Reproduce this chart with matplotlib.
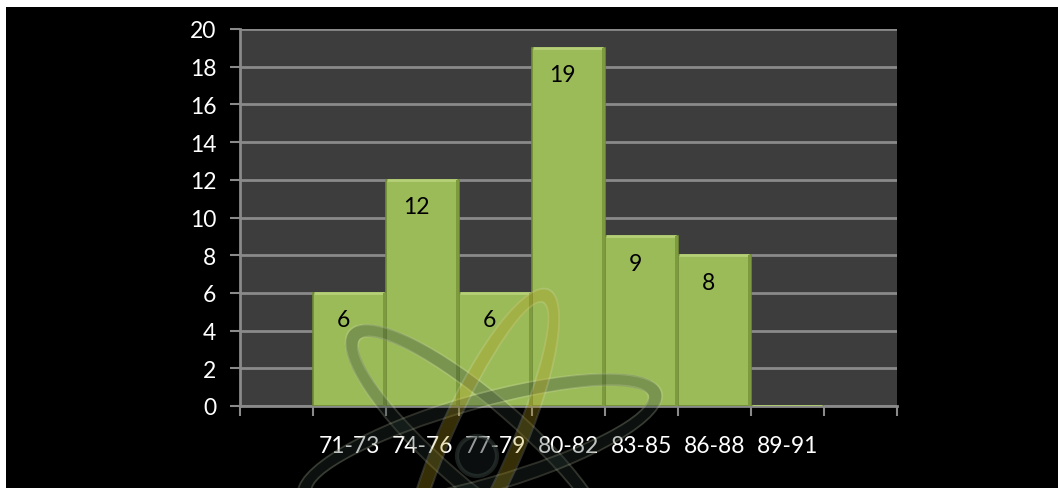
import matplotlib.pyplot as plt
from matplotlib.patches import Rectangle, Ellipse, Circle

# score bins and how many fall in each
bins = ['71-73', '74-76', '77-79', '80-82', '83-85', '86-88', '89-91']
counts = [6, 12, 6, 19, 9, 8, 0]
yticks = [0, 2, 4, 6, 8, 10, 12, 14, 16, 18, 20]

W, H = 1058, 489
fig = plt.figure(figsize=(W / 100, H / 100), dpi=100, facecolor='black')
# thin white margin on the top and left edges
fig.patches.append(Rectangle((0, 1 - 8 / H), 1, 8 / H, transform=fig.transFigure,
                             facecolor='white', edgecolor='none'))
fig.patches.append(Rectangle((0, 0), 6 / W, 1, transform=fig.transFigure,
                             facecolor='white', edgecolor='none'))

ax = fig.add_axes([240 / W, 1 - 407 / H, (897 - 240) / W, (407 - 30) / H])
ax.set_facecolor('#3d3d3d')

pos = list(range(len(bins)))
bars = ax.bar(pos, counts, width=1.0, color='#9bbb59', edgecolor='#6f8a35',
              linewidth=1.2, zorder=3)
# lighter top rim and shaded right side for a bit of depth
for b, v in zip(bars, counts):
    x0 = b.get_x()
    ax.plot([x0 + 0.02, x0 + 0.97], [v, v], color='#b5d077', lw=2, zorder=4,
            solid_capstyle='butt')
    ax.add_patch(Rectangle((x0 + 0.96, 0), 0.04, v, facecolor='#7d9a3f',
                           edgecolor='none', zorder=4))
    if v > 0:
        ax.annotate(str(v), (x0 + 0.42, v), xytext=(0, -27), textcoords='offset pixels',
                    ha='center', va='center', fontsize=16.5, family='Lato',
                    color='black', zorder=5)

ax.set_xlim(-1.5, len(bins) + 0.5)
ax.set_ylim(0, 20)
ax.set_yticks(yticks)
ax.yaxis.grid(True, color='#8a8a8a', lw=2)
ax.set_axisbelow(True)

ax.set_xticks([p - 0.5 for p in range(-1, len(bins) + 2)])
ax.set_xticklabels([])
ax.set_xticks(pos, minor=True)
ax.set_xticklabels(bins, minor=True, fontsize=16.5, family='Lato', color='white')
ax.tick_params(axis='x', which='minor', length=0, pad=21)
ax.tick_params(axis='both', which='major', color='#8a8a8a', length=7, width=1.5,
               labelsize=16.5, labelcolor='white')
for lab in ax.get_yticklabels():
    lab.set_family('Lato')
ax.tick_params(axis='y', pad=10)

for s in ['top', 'right']:
    ax.spines[s].set_visible(False)
for s in ['left', 'bottom']:
    ax.spines[s].set_color('#8a8a8a')
    ax.spines[s].set_linewidth(2)

# faint atom-style watermark over the lower middle (pixel units)
px = fig.dpi_scale_trans
cx, cy = 480 / 100, (H - 445) / 100
orbits = [(-41, 166, 42, '#2b3a35'), (16, 182, 42, '#2b3a35'), (66, 162, 36, '#b59a18')]
for ang, a, b, col in orbits:
    fig.patches.append(Ellipse((cx, cy), 2 * a / 100, 2 * b / 100, angle=ang,
                               transform=px, facecolor='none', edgecolor=col,
                               lw=9, alpha=0.3, zorder=5))
    for d in (-7, 7):
        fig.patches.append(Ellipse((cx, cy), 2 * (a + d) / 100, 2 * (b + d) / 100,
                                   angle=ang, transform=px, facecolor='none',
                                   edgecolor='#e6edc8', lw=1.3, alpha=0.2, zorder=5))
fig.patches.append(Circle((477 / 100, (H - 457) / 100), 0.2, transform=px,
                          facecolor='#1a2020', edgecolor='#3e4a44', lw=3,
                          alpha=0.45, zorder=5))

fig.savefig('out.png', dpi=100, facecolor=fig.get_facecolor())
